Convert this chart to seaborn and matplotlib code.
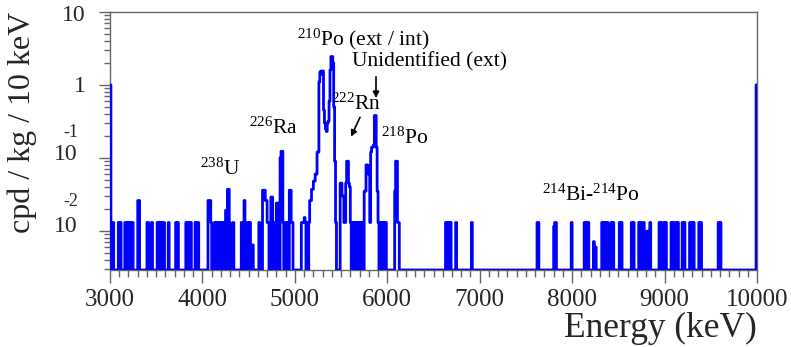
import numpy as np
import pandas as pd
import matplotlib
matplotlib.use('Agg')
import matplotlib.pyplot as plt
import matplotlib.transforms as mtransforms
from matplotlib.ticker import FixedLocator, MultipleLocator, LogLocator, NullFormatter
import seaborn as sns

# Alpha spectrum, 10 keV bins, cpd / kg / 10 keV
BIN_WIDTH = 10
E_MIN, E_MAX = 3000, 10000
Y_MIN, Y_MAX = 0.0029, 10
ONE_COUNT = 0.013

# bins holding a single count (low edge, keV)
single_bins = [3010, 3030, 3090, 3110, 3160, 3170, 3190, 3210, 3220, 3240,
               3400, 3410, 3450, 3510, 3530, 3550, 3570, 3580, 3630, 3710, 3730,
               3820, 3840, 3850, 3870, 3920, 3940, 3950, 4090, 4130, 4150, 4160,
               4180, 4200, 4220, 4290, 4330, 4420, 4430, 4460, 4490, 4510, 4610, 4700, 4710,
               4770, 4810, 4870, 4890, 4900, 4920, 4960, 4970, 5070, 5080, 5090, 5110,
               5130, 5150, 5440, 5530, 5540, 5600, 5620, 5630, 5650, 5670,
               5680, 5700, 5720, 5730, 5810, 5900, 5920, 5940, 5950, 5970,
               5980, 6110, 6120, 6630, 6640, 6660, 6680, 6740, 6910, 7620, 7630, 7810, 7820,
               7990, 8130, 8140, 8150, 8170, 8320, 8330, 8350, 8370, 8380, 8420, 8440, 8510,
               8530, 8640, 8660, 8720, 8740, 8770, 8840, 8940, 8960, 8990, 9010, 9070, 9090,
               9120, 9140, 9190, 9210, 9270, 9290, 9310, 9370, 9390, 9580, 9600]

# bins with other contents
peak_bins = [3000, 3300, 3310, 4060, 4070, 4080, 4240, 4250, 4270, 4280, 4450, 4540,
             4650, 4660, 4670, 4680, 4690, 4740, 4750, 4800, 4820, 4840, 4850, 4860,
             4940, 4950, 5100, 5160, 5170, 5180, 5190, 5200, 5210, 5220, 5230, 5240,
             5250, 5260, 5270, 5280, 5290, 5300, 5310, 5320, 5330, 5340, 5350, 5360,
             5370, 5380, 5390, 5400, 5410, 5420, 5430, 5490, 5500, 5510, 5520, 5550,
             5560, 5570, 5580, 5590, 5750, 5760, 5770, 5780, 5790, 5800, 5820, 5830,
             5840, 5850, 5860, 5870, 5880, 5890, 6080, 6090, 6100, 7800, 8230, 8250,
             8810, 8830, 9990]
peak_rates = [1.0, 0.026, 0.026, 0.026, 0.026, 0.026, 0.0092, 0.019, 0.037, 0.037, 0.026, 0.0064,
              0.036, 0.036, 0.036, 0.026, 0.026, 0.029, 0.029, 0.024, 0.024, 0.10, 0.123, 0.123,
              0.036, 0.036, 0.0152, 0.026, 0.026, 0.037, 0.037, 0.048, 0.048, 0.06, 0.06, 0.12,
              0.12, 1.1, 1.5, 1.55, 1.4, 1.55, 0.45, 0.3, 0.25, 0.23, 0.3, 0.32,
              0.6, 1.6, 2.45, 2.45, 2.0, 0.5, 0.09, 0.045, 0.045, 0.03, 0.03, 0.045,
              0.09, 0.09, 0.045, 0.04, 0.035, 0.035, 0.08, 0.08, 0.06, 0.06, 0.12, 0.14,
              0.14, 0.15, 0.38, 0.38, 0.14, 0.035, 0.035, 0.09, 0.09, 0.0115, 0.0071, 0.006,
              0.0099, 0.0099, 1.0]

# peak labels: text, energy, rate
labels = [r'$^{210}$Po (ext / int)', r'Unidentified (ext)', r'$^{222}$Rn', r'$^{226}$Ra',
          r'$^{218}$Po', r'$^{238}$U', r'$^{214}$Bi-$^{214}$Po']
label_x = [5738, 6462, 5662, 4764, 6192, 4190, 8205]
label_y = [4.2, 2.09, 0.545, 0.253, 0.184, 0.0703, 0.0306]

# y decade labels (ROOT style: exponent drawn above the 10)
ytick_vals = [10, 1, 0.1, 0.01]
ytick_text = ['10', '1', '10', '10']
ytick_exp = ['', '', '-1', '-2']

edges = np.arange(E_MIN, E_MAX + BIN_WIDTH, BIN_WIDTH)
rate = np.zeros(len(edges) - 1)
rate[(np.array(single_bins) - E_MIN) // BIN_WIDTH] = ONE_COUNT
rate[(np.array(peak_bins) - E_MIN) // BIN_WIDTH] = peak_rates
shown = np.where(rate > 0, rate, Y_MIN)  # empty bins sit on the frame

xs = np.concatenate([[E_MIN], edges[:-1], [E_MAX, E_MAX]])
ys = np.concatenate([[Y_MIN], shown, [shown[-1], Y_MIN]])
df = pd.DataFrame({'energy': xs, 'rate': ys})

sns.set_style('ticks')
plt.rcParams['font.family'] = ['Liberation Serif', 'DejaVu Serif']
plt.rcParams['mathtext.fontset'] = 'custom'
plt.rcParams['mathtext.rm'] = 'Liberation Serif'
plt.rcParams['mathtext.it'] = 'Liberation Serif'

fig = plt.figure(figsize=(7.91, 3.47), dpi=100)
ax = fig.add_axes([110 / 791, 1 - 270 / 347, 647 / 791, 258 / 347])

sns.lineplot(data=df, x='energy', y='rate', ax=ax, drawstyle='steps-post', sort=False,
             estimator=None, color='#0000ff', lw=2.0, zorder=3)

ax.set_yscale('log')
ax.set_xlim(E_MIN, E_MAX)
ax.set_ylim(Y_MIN, Y_MAX)

frame_col = '#666666'
for s in ax.spines.values():
    s.set_color(frame_col)
    s.set_linewidth(1.0)

ax.xaxis.set_major_locator(MultipleLocator(1000))
ax.xaxis.set_minor_locator(MultipleLocator(100))
ax.tick_params(axis='x', which='major', direction='out', length=9, width=1, color=frame_col,
               labelsize=18, pad=5)
ax.tick_params(axis='x', which='minor', direction='out', length=5, width=1, color=frame_col)

ax.yaxis.set_major_locator(FixedLocator(ytick_vals))
ax.yaxis.set_minor_locator(LogLocator(base=10, subs=np.arange(2, 10)))
ax.yaxis.set_major_formatter(NullFormatter())
ax.yaxis.set_minor_formatter(NullFormatter())
ax.tick_params(axis='y', which='major', direction='out', length=8, width=1, color=frame_col)
ax.tick_params(axis='y', which='minor', direction='out', length=4, width=1, color=frame_col)

trans = mtransforms.blended_transform_factory(ax.transAxes, ax.transData)
base_shift = {10: 0.9, 1: 0.95, 0.1: 1.1, 0.01: 1.15}
exp_shift = {0.1: 2.2, 0.01: 2.5}
for v, t, e in zip(ytick_vals, ytick_text, ytick_exp):
    xoff = -0.038 if e == '' else -0.05
    ax.text(xoff, v * base_shift[v], t, transform=trans, ha='right', va='center', fontsize=17)
    if e:
        ax.text(-0.049, v * exp_shift[v], e, transform=trans, ha='right', va='center',
                fontsize=13)

ax.set_xlabel('')
ax.set_ylabel('')
fig.text(22 / 791, 1 - 122 / 347, 'cpd / kg / 10 keV', rotation=90, ha='center', va='center',
         fontsize=23)
fig.text(757 / 791, 1 - 328 / 347, 'Energy (keV)', ha='right', va='center', fontsize=25.5)

for t, x, y in zip(labels, label_x, label_y):
    ax.text(x, y, t, ha='center', va='center', fontsize=15.5, color='black', zorder=4)

arrow = dict(arrowstyle='-|>', color='black', lw=1.2, mutation_scale=9, shrinkA=0, shrinkB=0)
ax.annotate('', xy=(5878, 0.66), xytext=(5878, 1.29), arrowprops=arrow)
ax.annotate('', xy=(5608, 0.195), xytext=(5705, 0.36), arrowprops=arrow)

fig.savefig('out.png', dpi=100)
